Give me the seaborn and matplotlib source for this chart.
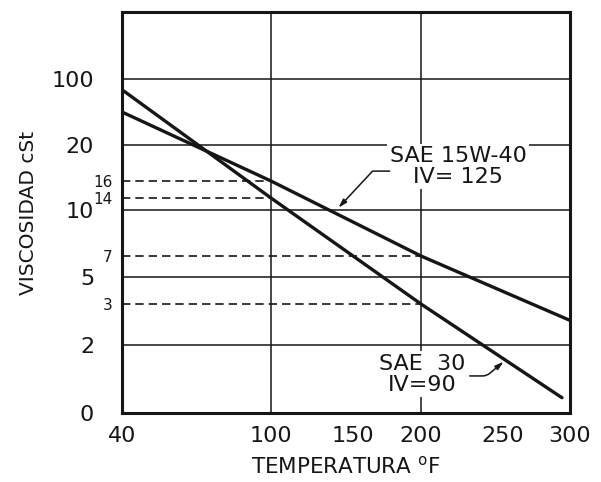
import numpy as np
import pandas as pd
import seaborn as sns
import matplotlib.pyplot as plt

# viscosity vs temperature
temps_15w40 = [40, 100, 200, 300]
visc_15w40 = [60, 16, 7, 2.6]
temps_sae30 = [40, 100, 200, 294]
visc_sae30 = [87, 14, 3, 0.45]

x_ticks = [40, 100, 150, 200, 250, 300]
y_ticks = [0, 2, 5, 10, 20, 100]
mark_visc = [16, 14, 7, 3]
mark_temps = [100, 100, 200, 200]
grid_y = [2, 5, 10, 20, 100]
grid_x = [100, 200]

# the printed axes are hand drawn, so the scales are defined by knots
x_knots = [40, 100, 150, 200, 250, 300]
x_rel = [0, 149, 231, 299, 381, 448]
y_knots = [0, 2, 3, 5, 7, 10, 14, 16, 20, 100, 180]
y_rel = [0, 68, 109, 136, 157, 203, 215, 232, 268, 334, 401]

ink = '#161616'

df = pd.concat([
    pd.DataFrame({'oil': 'SAE 15W-40', 'temp': temps_15w40, 'visc': visc_15w40}),
    pd.DataFrame({'oil': 'SAE 30', 'temp': temps_sae30, 'visc': visc_sae30}),
])

sns.set_style('white')
plt.rcParams['font.family'] = ['DejaVu Sans']

fig = plt.figure(figsize=(6.01, 4.82), dpi=100)
ax = fig.add_axes([122 / 601, 1 - 413 / 482, 448 / 601, 401 / 482])

sns.lineplot(data=df, x='temp', y='visc', hue='oil', palette=[ink, ink],
             linewidth=2.4, legend=False, sort=False, estimator=None, ax=ax)

ax.set_xscale('function', functions=(lambda v: np.interp(v, x_knots, x_rel),
                                      lambda p: np.interp(p, x_rel, x_knots)))
ax.set_yscale('function', functions=(lambda v: np.interp(v, y_knots, y_rel),
                                      lambda p: np.interp(p, y_rel, y_knots)))
ax.set_xlim(40, 300)
ax.set_ylim(0, 180)

for v in grid_y:
    ax.axhline(v, color=ink, lw=1.1, zorder=1)
for t in grid_x:
    ax.axvline(t, color=ink, lw=1.1, zorder=1)

for v, t in zip(mark_visc, mark_temps):
    ax.plot([40, t], [v, v], color=ink, lw=1.2, ls=(0, (5, 3)), zorder=1)

ax.set_xticks(x_ticks)
ax.set_xticklabels([str(t) for t in x_ticks])
ax.set_yticks(y_ticks)
ax.set_yticklabels([str(v) for v in y_ticks])
ax.set_yticks(mark_visc, minor=True)
ax.set_yticklabels([str(v) for v in mark_visc], minor=True)
ax.xaxis.set_minor_locator(plt.NullLocator())

ax.tick_params(axis='x', which='major', direction='inout', length=12, width=1.5,
               labelsize=16, pad=3, colors=ink)
ax.tick_params(axis='y', which='major', direction='out', length=10, width=1.5,
               labelsize=16, pad=10, colors=ink)
ax.tick_params(axis='y', which='minor', direction='out', length=6, width=1.2,
               labelsize=11, pad=1, colors=ink)

for s in ax.spines.values():
    s.set_linewidth(2.2)
    s.set_color(ink)

ax.set_xlabel(r'TEMPERATURA $^{\mathrm{o}}$F', fontsize=15.5, labelpad=7, color=ink)
ax.set_ylabel('VISCOSIDAD cSt', fontsize=14.5, labelpad=10, color=ink)

box = dict(boxstyle='square,pad=0.1', fc='white', ec='none')
ax.text(0.75, 0.615, 'SAE 15W-40\nIV= 125', transform=ax.transAxes, ha='center',
        va='center', fontsize=16, color=ink, linespacing=1.05, bbox=box, zorder=3)
ax.text(0.67, 0.097, 'SAE  30\nIV=90', transform=ax.transAxes, ha='center',
        va='center', fontsize=16, color=ink, linespacing=1.05, bbox=box, zorder=3)

ax.annotate('', xy=(140, 10.1), xytext=(179, 17.1),
            arrowprops=dict(arrowstyle='-|>,head_length=0.5,head_width=0.15', color=ink,
                            lw=1.1, connectionstyle='angle,angleA=0,angleB=47,rad=0'))
ax.annotate('', xy=(252, 1.56), xytext=(228, 1.09),
            arrowprops=dict(arrowstyle='-|>,head_length=0.5,head_width=0.15', color=ink,
                            lw=1.1, connectionstyle='angle,angleA=0,angleB=40,rad=4'))

fig.savefig('out.png', dpi=100, facecolor='white')
